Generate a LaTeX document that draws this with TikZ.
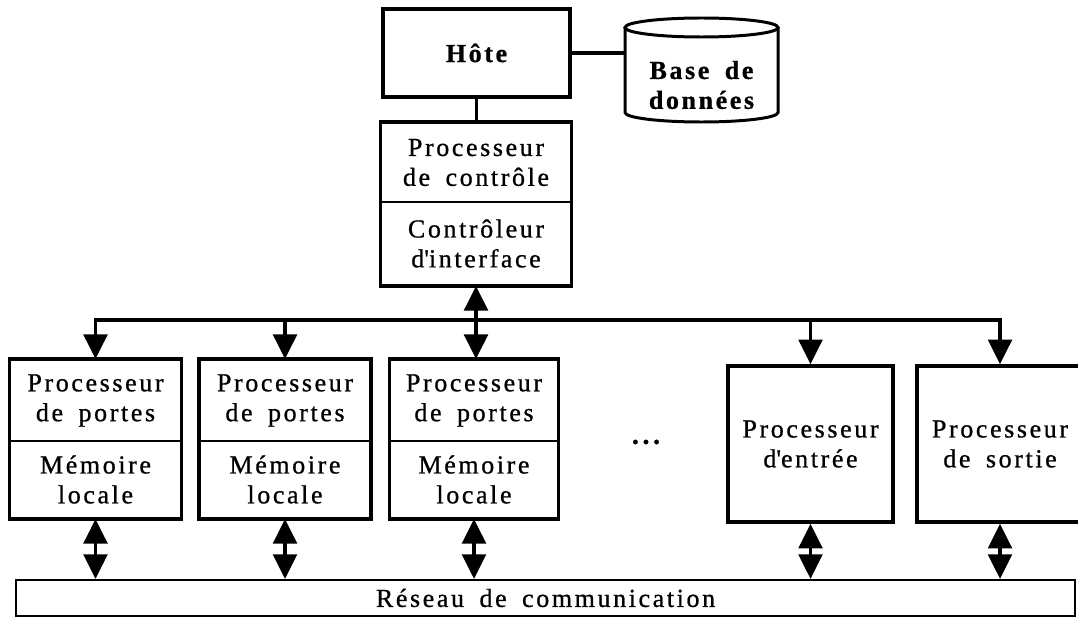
\documentclass[tikz,border=0pt]{standalone}
\usepackage{fontspec}
\setmainfont{Liberation Serif}[LetterSpace=10, WordSpace=1.7, FakeBold=0.8]
\usetikzlibrary{arrows.meta}

\begin{document}
\begin{tikzpicture}[x=0.02cm, y=0.02cm]

\def\rx{76.5} % half width of the data base
\def\ry{9.5}  % half height of its ellipses
\def\yb{303}  % height of the distribution line

\tikzset{>={Triangle[length=14pt, width=13.5pt]}}
\tikzset{txt/.style = {inner sep=0pt, align=center,
                       font=\fontsize{14.8}{17}\selectfont}}
\tikzset{part/.style = {txt, draw, line width=1.1pt}}
\tikzset{frame/.style = {line width=2pt}}
\tikzset{wire/.style = {line width=1.8pt}}

\useasboundingbox (0,0) rectangle (1078,623);

% host and data base
\node[part, line width=2pt, font=\fontsize{14.8}{17}\selectfont\bfseries,
      minimum width=3.74cm, minimum height=1.76cm] (hote) at (476.5,570) {Hôte};
\node[txt, font=\fontsize{14.8}{17}\selectfont\bfseries,
      minimum width=3.06cm] (base) at (701.5,538) {Base de\\données};
\draw[line width=1.7pt] (625,595.5) -- (625,501+\ry)
    arc[start angle=180, end angle=360, x radius=\rx, y radius=\ry]
    -- (778,595.5);
\draw[line width=1.7pt] (701.5,595.5) ellipse [x radius=\rx, y radius=\ry];

% control processor
\node[part, minimum width=3.78cm, minimum height=1.58cm] (ctrl) at (476,460.5)
    {Processeur\\de contrôle};
\node[part, minimum width=3.78cm, minimum height=1.66cm] (iface) at (476,379.5)
    {Contrôleur\\d\textquotesingle interface};
\draw[frame] (ctrl.north west) rectangle (iface.south east);

% gate processors
\node[part, minimum width=3.4cm, minimum height=1.62cm] (pp1) at (95.5,222.5) {Processeur\\de portes};
\node[part, minimum width=3.4cm, minimum height=1.54cm] (lm1) at (95.5,143.5) {Mémoire\\locale};
\node[part, minimum width=3.4cm, minimum height=1.62cm] (pp2) at (285,222.5) {Processeur\\de portes};
\node[part, minimum width=3.4cm, minimum height=1.54cm] (lm2) at (285,143.5) {Mémoire\\locale};
\node[part, minimum width=3.34cm, minimum height=1.62cm] (pp3) at (474,222.5) {Processeur\\de portes};
\node[part, minimum width=3.34cm, minimum height=1.54cm] (lm3) at (474,143.5) {Mémoire\\locale};
\draw[frame] (pp1.north west) rectangle (lm1.south east);
\draw[frame] (pp2.north west) rectangle (lm2.south east);
\draw[frame] (pp3.north west) rectangle (lm3.south east);

\node[txt, font=\fontsize{16}{17}\selectfont\bfseries] (dots) at (646,181) {.\hspace{2pt}.\hspace{2pt}.};

% input and output processors
\node[part, frame, minimum width=3.3cm, minimum height=3.12cm] (pe) at (810.5,179) {Processeur\\d\textquotesingle entrée};
\node[part, frame, minimum width=3.32cm, minimum height=3.12cm] (ps) at (1000,179) {Processeur\\de sortie};

% communication network
\node[part, line width=1.3pt, minimum width=21.18cm, minimum height=0.72cm] (bus) at (545.5,25)
    {Réseau de communication};

% links
\coordinate (busl) at (95.5,\yb);
\coordinate (busr) at (1000,\yb);
\draw[wire] (hote.east) -- (hote.east -| base.west);
\draw[wire] (hote.south) -- (hote.south |- ctrl.north);
\draw[wire, <->] (pp1.north) -- (busl) -- (busr) -- (ps.north);
\draw[wire, ->] (pp2.north |- busl) -- (pp2.north);
\draw[wire, ->] (pe.north |- busl) -- (pe.north);
\draw[wire, <->] (iface.south) -- (iface.south |- pp3.north);

\draw[wire, <->] (lm1.south) -- (lm1.south |- bus.north);
\draw[wire, <->] (lm2.south) -- (lm2.south |- bus.north);
\draw[wire, <->] (lm3.south) -- (lm3.south |- bus.north);
\draw[wire, <->] (pe.south) -- (pe.south |- bus.north);
\draw[wire, <->] (ps.south) -- (ps.south |- bus.north);

\end{tikzpicture}
\end{document}
